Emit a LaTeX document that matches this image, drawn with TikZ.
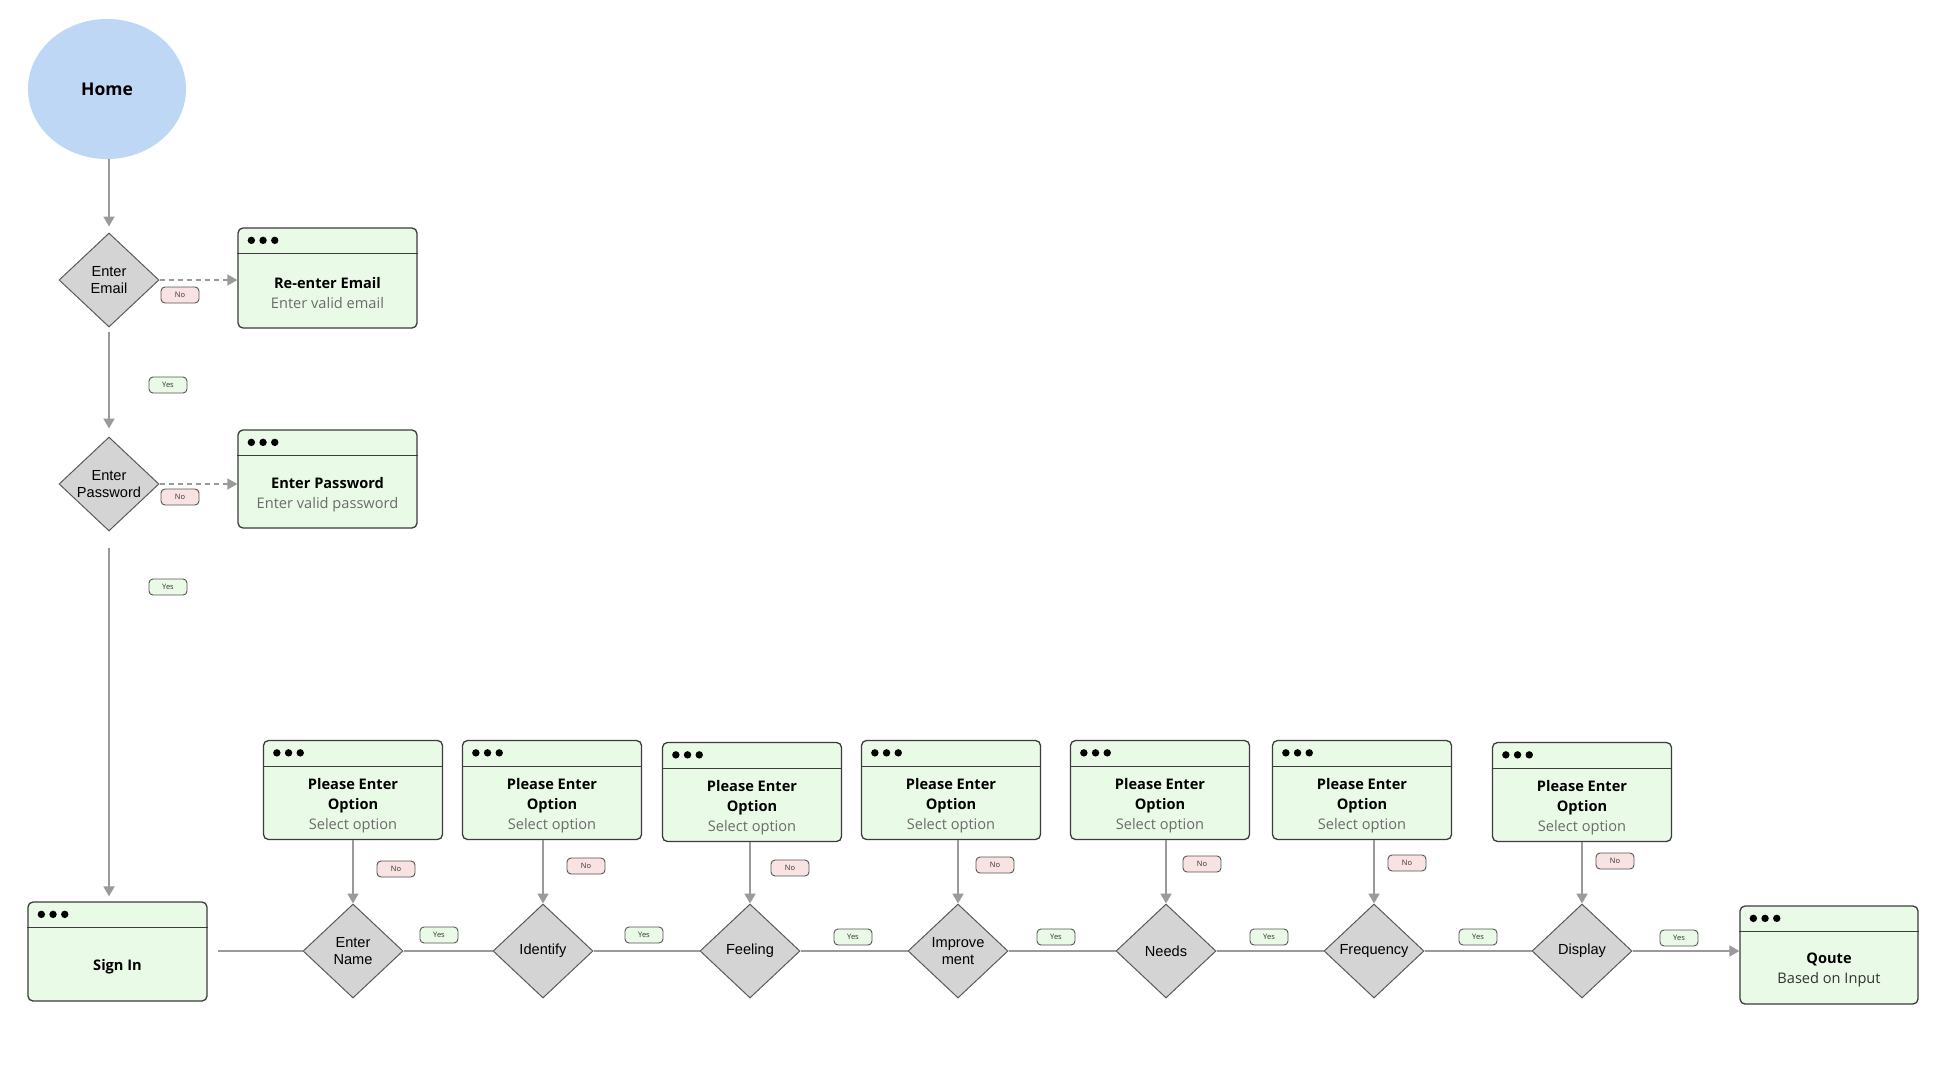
\documentclass[tikz,border=0pt]{standalone}
\usepackage{fontspec}
\setmainfont{Open Sans}
\newfontfamily\diafont{Liberation Sans}
\usetikzlibrary{shapes.geometric,arrows.meta,calc}
\definecolor{boxfill}{HTML}{E9FAE6}
\definecolor{boxdraw}{HTML}{3C3C3C}
\definecolor{diafill}{HTML}{D4D4D4}
\definecolor{diadraw}{HTML}{5A5A5A}
\definecolor{homefill}{HTML}{BDD7F5}
\definecolor{arrowc}{HTML}{9A9A9A}
\definecolor{nofill}{HTML}{F8E2E2}
\definecolor{yesfill}{HTML}{E9FAE6}
\definecolor{lbldraw}{HTML}{555555}
\definecolor{subgray}{HTML}{6B6B6B}
\definecolor{subdark}{HTML}{333333}
\newcommand\winbox[6]{%
  \node[winbox, minimum width=#4pt, minimum height=#5pt] (#1) at (#2,#3) {};
  \draw[hdr] ([yshift=-26.5pt]#1.north west) -- ([yshift=-26.5pt]#1.north east);
  \foreach \k in {0,1,2} \fill ([xshift={14pt+\k*11.7pt}, yshift=-13pt]#1.north west) circle (3.7pt);
  \node[wintext] at ([yshift=-2pt]$(#1.south)!0.5!([yshift=-26.5pt]#1.north)$) {#6};
}
\begin{document}
\begin{tikzpicture}[x=1pt,y=-1pt,
  winbox/.style={draw=boxdraw, fill=boxfill, line width=1.3pt, rounded corners=5pt, inner sep=0pt},
  hdr/.style={draw=boxdraw, line width=1.2pt},
  wintext/.style={align=center, font=\fontsize{14.6}{20}\selectfont, text=black},
  dia/.style={diamond, draw=diadraw, fill=diafill, line width=1pt, minimum width=100pt, minimum height=94pt, inner sep=0pt, align=center, font=\diafont\fontsize{14.6}{16.5}\selectfont},
  lbl/.style={draw=lbldraw, rounded corners=4pt, minimum width=38pt, minimum height=16pt, inner sep=0pt, font=\fontsize{7.5}{8}\selectfont, line width=0.9pt, text=subdark},
  yeslbl/.style={lbl, fill=yesfill},
  nolbl/.style={lbl, fill=nofill},
  flow/.style={draw=arrowc, line width=1.8pt},
  arr/.style={flow, -{Triangle[length=10pt,width=11pt]}},
  dashedarrow/.style={draw=arrowc, line width=1.6pt, dash pattern=on 5pt off 4pt, -{Triangle[length=10pt,width=11pt]}}
]
\useasboundingbox[fill=white] (0,0) rectangle (1935,1072);

% left column
\node[ellipse, fill=homefill, minimum width=158pt, minimum height=140pt, font=\bfseries\fontsize{17.5}{20}\selectfont] (home) at (107,89) {Home};
\node[dia] (email) at (109,280) {Enter\\Email};
\node[dia] (pass) at (109,484) {Enter\\Password};
\winbox{reemail}{327.5}{278}{179}{100}{\textbf{Re-enter Email}\\\textcolor{subgray}{Enter valid email}}
\winbox{passbox}{327.5}{479}{179}{98}{\textbf{Enter Password}\\\textcolor{subgray}{Enter valid password}}
\winbox{signin}{117.5}{951.5}{179}{99}{\textbf{Sign In}}

\draw[arr, shorten >=6pt] (home.south -| email.north) -- (email.north);
\draw[arr, shorten <=4pt, shorten >=8pt] (email.south) -- (pass.north);
\draw[arr, shorten <=16pt, shorten >=5pt] (pass.south) -- (pass.south |- signin.north);
\draw[dashedarrow] (email.east) -- (email.east -| reemail.west);
\draw[dashedarrow] (pass.east) -- (pass.east -| passbox.west);

\node[nolbl] (no0) at (180,295) {No};
\node[nolbl] (no00) at (180,497) {No};
\node[yeslbl] (yes0) at (168,385) {Yes};
\node[yeslbl] (yes00) at (168,587) {Yes};

% bottom row diamonds
\node[dia] (d1) at (353,951) {Enter\\Name};
\node[dia] (d2) at (543,951) {Identify};
\node[dia] (d3) at (750,951) {Feeling};
\node[dia] (d4) at (958,951) {Improve\\ment};
\node[dia] (d5) at (1166,951) {Needs};
\node[dia] (d6) at (1374,951) {Frequency};
\node[dia] (d7) at (1582,951) {Display};

% option boxes
\winbox{b1}{353}{790}{179}{99}{\textbf{Please Enter}\\\textbf{Option}\\\textcolor{subgray}{Select option}}
\winbox{b2}{552}{790}{179}{99}{\textbf{Please Enter}\\\textbf{Option}\\\textcolor{subgray}{Select option}}
\winbox{b3}{752}{792}{179}{99}{\textbf{Please Enter}\\\textbf{Option}\\\textcolor{subgray}{Select option}}
\winbox{b4}{951}{790}{179}{99}{\textbf{Please Enter}\\\textbf{Option}\\\textcolor{subgray}{Select option}}
\winbox{b5}{1160}{790}{179}{99}{\textbf{Please Enter}\\\textbf{Option}\\\textcolor{subgray}{Select option}}
\winbox{b6}{1362}{790}{179}{99}{\textbf{Please Enter}\\\textbf{Option}\\\textcolor{subgray}{Select option}}
\winbox{b7}{1582}{792}{179}{99}{\textbf{Please Enter}\\\textbf{Option}\\\textcolor{subgray}{Select option}}

\winbox{quote}{1829}{955}{178}{98}{\textbf{Qoute}\\\textcolor{subdark}{Based on Input}}

% connectors bottom
\draw[flow, shorten <=10pt] (signin.east |- d1.west) -- (d1.west);
\draw[flow] (d1.east) -- (d2.west);
\draw[flow] (d2.east) -- (d3.west);
\draw[flow] (d3.east) -- (d4.west);
\draw[flow] (d4.east) -- (d5.west);
\draw[flow] (d5.east) -- (d6.west);
\draw[flow] (d6.east) -- (d7.west);
\draw[arr] (d7.east) -- (d7.east -| quote.west);

\foreach \i in {1,...,7} \draw[arr] (b\i.south -| d\i.north) -- (d\i.north);

% labels
\node[nolbl] (n1) at (396,869) {No};
\node[nolbl] (n2) at (586,866) {No};
\node[nolbl] (n3) at (790,868) {No};
\node[nolbl] (n4) at (995,865) {No};
\node[nolbl] (n5) at (1202,864) {No};
\node[nolbl] (n6) at (1407,863) {No};
\node[nolbl] (n7) at (1615,861) {No};
\node[yeslbl] (y1) at (439,935) {Yes};
\node[yeslbl] (y2) at (644,935) {Yes};
\node[yeslbl] (y3) at (853,937) {Yes};
\node[yeslbl] (y4) at (1056,937) {Yes};
\node[yeslbl] (y5) at (1269,937) {Yes};
\node[yeslbl] (y6) at (1478,937) {Yes};
\node[yeslbl] (y7) at (1679,938) {Yes};
\end{tikzpicture}
\end{document}
